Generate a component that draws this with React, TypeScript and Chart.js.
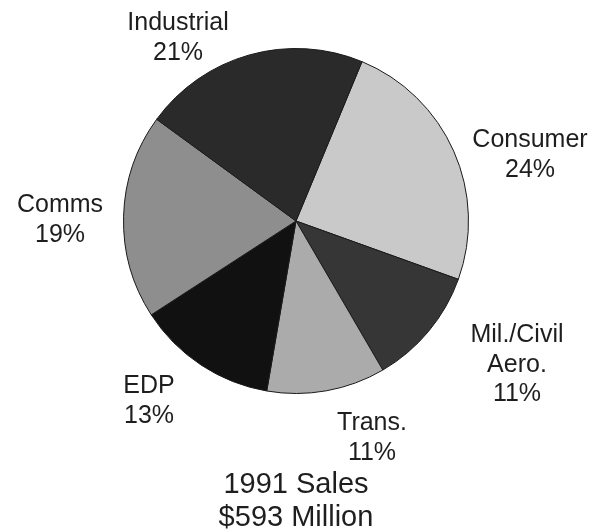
import React, { useEffect, useRef } from "react";
import { Chart, registerables } from "chart.js";

Chart.register(...registerables);

// ---- data ----
const categories = ["Consumer", "Mil./Civil Aero.", "Trans.", "EDP", "Comms", "Industrial"];
const shares = [24, 11, 11, 13, 19, 21];
const nameLines = [["Consumer"], ["Mil./Civil", "Aero."], ["Trans."], ["EDP"], ["Comms"], ["Industrial"]];
const titleLines = ["1991 Sales", "$593 Million"];

// ---- style / layout ----
const sliceColors = ["#c9c9c9", "#363636", "#ababab", "#111111", "#8e8e8e", "#2a2a2a"];
// first-line baseline of each label, relative to the pie centre (px)
const labelOffsets = [
  [234, -74],
  [221, 121],
  [76, 209],
  [-147, 172],
  [-236, -9],
  [-118, -191],
];
const titleOffset = [0, 272];
const FONT = '"Liberation Sans", Arial, Helvetica, sans-serif';

const labelPlugin = {
  id: "pieLabels",
  afterDraw(chart: any) {
    const meta = chart.getDatasetMeta(0);
    const arc = meta.data[0];
    if (!arc) return;
    const cx = arc.x;
    const cy = arc.y;
    const ctx = chart.ctx;
    ctx.save();
    ctx.fillStyle = "#1e1e1e";
    ctx.textAlign = "center";
    ctx.textBaseline = "alphabetic";
    ctx.font = `25px ${FONT}`;
    nameLines.forEach((lines, i) => {
      const all = [...lines, `${shares[i]}%`];
      const [dx, dy] = labelOffsets[i];
      all.forEach((t, j) => {
        ctx.fillText(t, cx + dx, cy + dy + j * 29.5);
      });
    });
    ctx.font = `29px ${FONT}`;
    titleLines.forEach((t, j) => {
      ctx.fillText(t, cx + titleOffset[0], cy + titleOffset[1] + j * 33);
    });
    ctx.restore();
  },
};

export default function App() {
  const ref = useRef<HTMLCanvasElement | null>(null);
  useEffect(() => {
    if (!ref.current) return;
    const chart = new Chart(ref.current, {
      type: "pie",
      data: {
        labels: categories,
        datasets: [
          {
            data: shares,
            backgroundColor: sliceColors,
            borderColor: "#1a1a1a",
            borderWidth: 1,
          },
        ],
      },
      options: {
        responsive: false,
        animation: false,
        events: [],
        rotation: 22.5,
        layout: { padding: { top: 48, bottom: 137, left: 123, right: 130 } },
        plugins: {
          legend: { display: false },
          tooltip: { enabled: false },
          title: { display: false },
        },
      },
      plugins: [labelPlugin],
    });
    return () => chart.destroy();
  }, []);
  return (
    <div style={{ position: "absolute", left: 0, top: 0, width: 599, height: 531, background: "#fff" }}>
      <canvas ref={ref} width={599} height={531} />
    </div>
  );
}
